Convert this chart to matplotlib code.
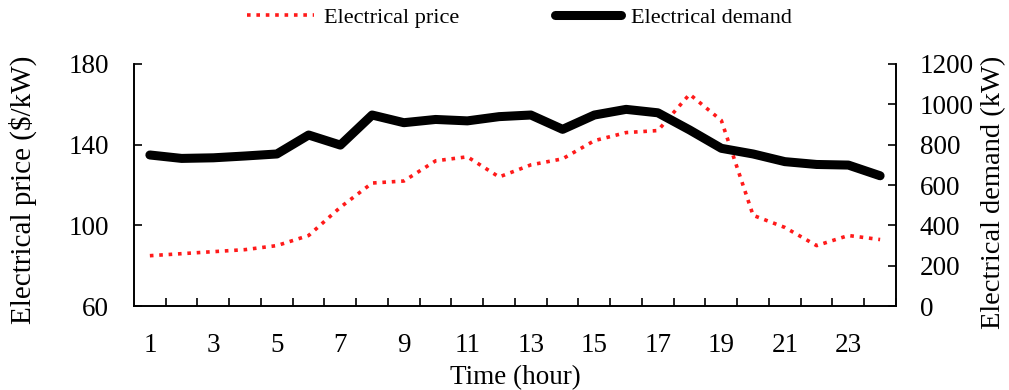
import matplotlib
matplotlib.use("Agg")
import matplotlib.pyplot as plt
import numpy as np

plt.rcParams['font.family'] = ['Liberation Serif', 'DejaVu Serif']

hours = list(range(1, 25))
price = [85, 86, 87, 88, 90, 95, 109, 121, 122, 132, 134, 124,
         130, 133, 142, 146, 147, 165, 152, 105, 99, 90, 95, 93]
demand = [749, 732, 735, 744, 754, 848, 798, 947, 909, 925, 918, 939,
          947, 876, 947, 975, 958, 873, 782, 754, 716, 702, 699, 646]
odd_labels = [str(h) for h in hours if h % 2 == 1]

fig = plt.figure(figsize=(10.09, 3.9), dpi=100)
ax = fig.add_axes([0.1328, 0.215, 0.7552, 0.621])
ax2 = ax.twinx()

l1, = ax.plot(hours, price, color='#ff1a1a', lw=2.6, linestyle=(0, (1, 1.6)),
              label='Electrical price', zorder=3)
l2, = ax2.plot(hours, demand, color='black', lw=6.5, solid_capstyle='round',
               solid_joinstyle='round', label='Electrical demand')

ax.set_xlim(0.5, 24.5)
ax.set_ylim(60, 180)
ax.set_yticks([60, 100, 140, 180])
ax2.set_ylim(0, 1200)
ax2.set_yticks(range(0, 1201, 200))

ax.set_xticks(np.arange(1.5, 24.6, 1))
ax.set_xticklabels([])
ax.set_xticks([h for h in hours if h % 2 == 1], minor=True)
ax.set_xticklabels(odd_labels, minor=True)
ax.tick_params(axis='x', which='major', direction='in', length=6, width=1.2)
ax.tick_params(axis='x', which='minor', length=0, pad=19, labelsize=19.5)
ax.tick_params(axis='y', direction='in', length=6, width=1.2, labelsize=19.5, pad=18)
ax2.tick_params(axis='y', direction='in', length=6, width=1.2, labelsize=19.5, pad=17)

for a in (ax, ax2):
    a.spines['top'].set_visible(False)
    for s in ('left', 'right', 'bottom'):
        a.spines[s].set_linewidth(1.2)

ax.set_xlabel('Time (hour)', fontsize=19.5)
ax.xaxis.set_label_coords(0.5, -0.243)
ax.set_ylabel('Electrical price ($/kW)', fontsize=21)
ax.yaxis.set_label_coords(-0.127, 0.48)
ax2.set_ylabel('Electrical demand (kW)', fontsize=20.5)
ax2.yaxis.set_label_coords(1.112, 0.47)

fig.legend(handles=[l1, l2], loc='center', bbox_to_anchor=(0.515, 0.954),
           ncol=2, frameon=False, fontsize=16, handlelength=3, columnspacing=4.3,
           handletextpad=0.45, borderpad=0)

fig.savefig('out.png', dpi=100)
